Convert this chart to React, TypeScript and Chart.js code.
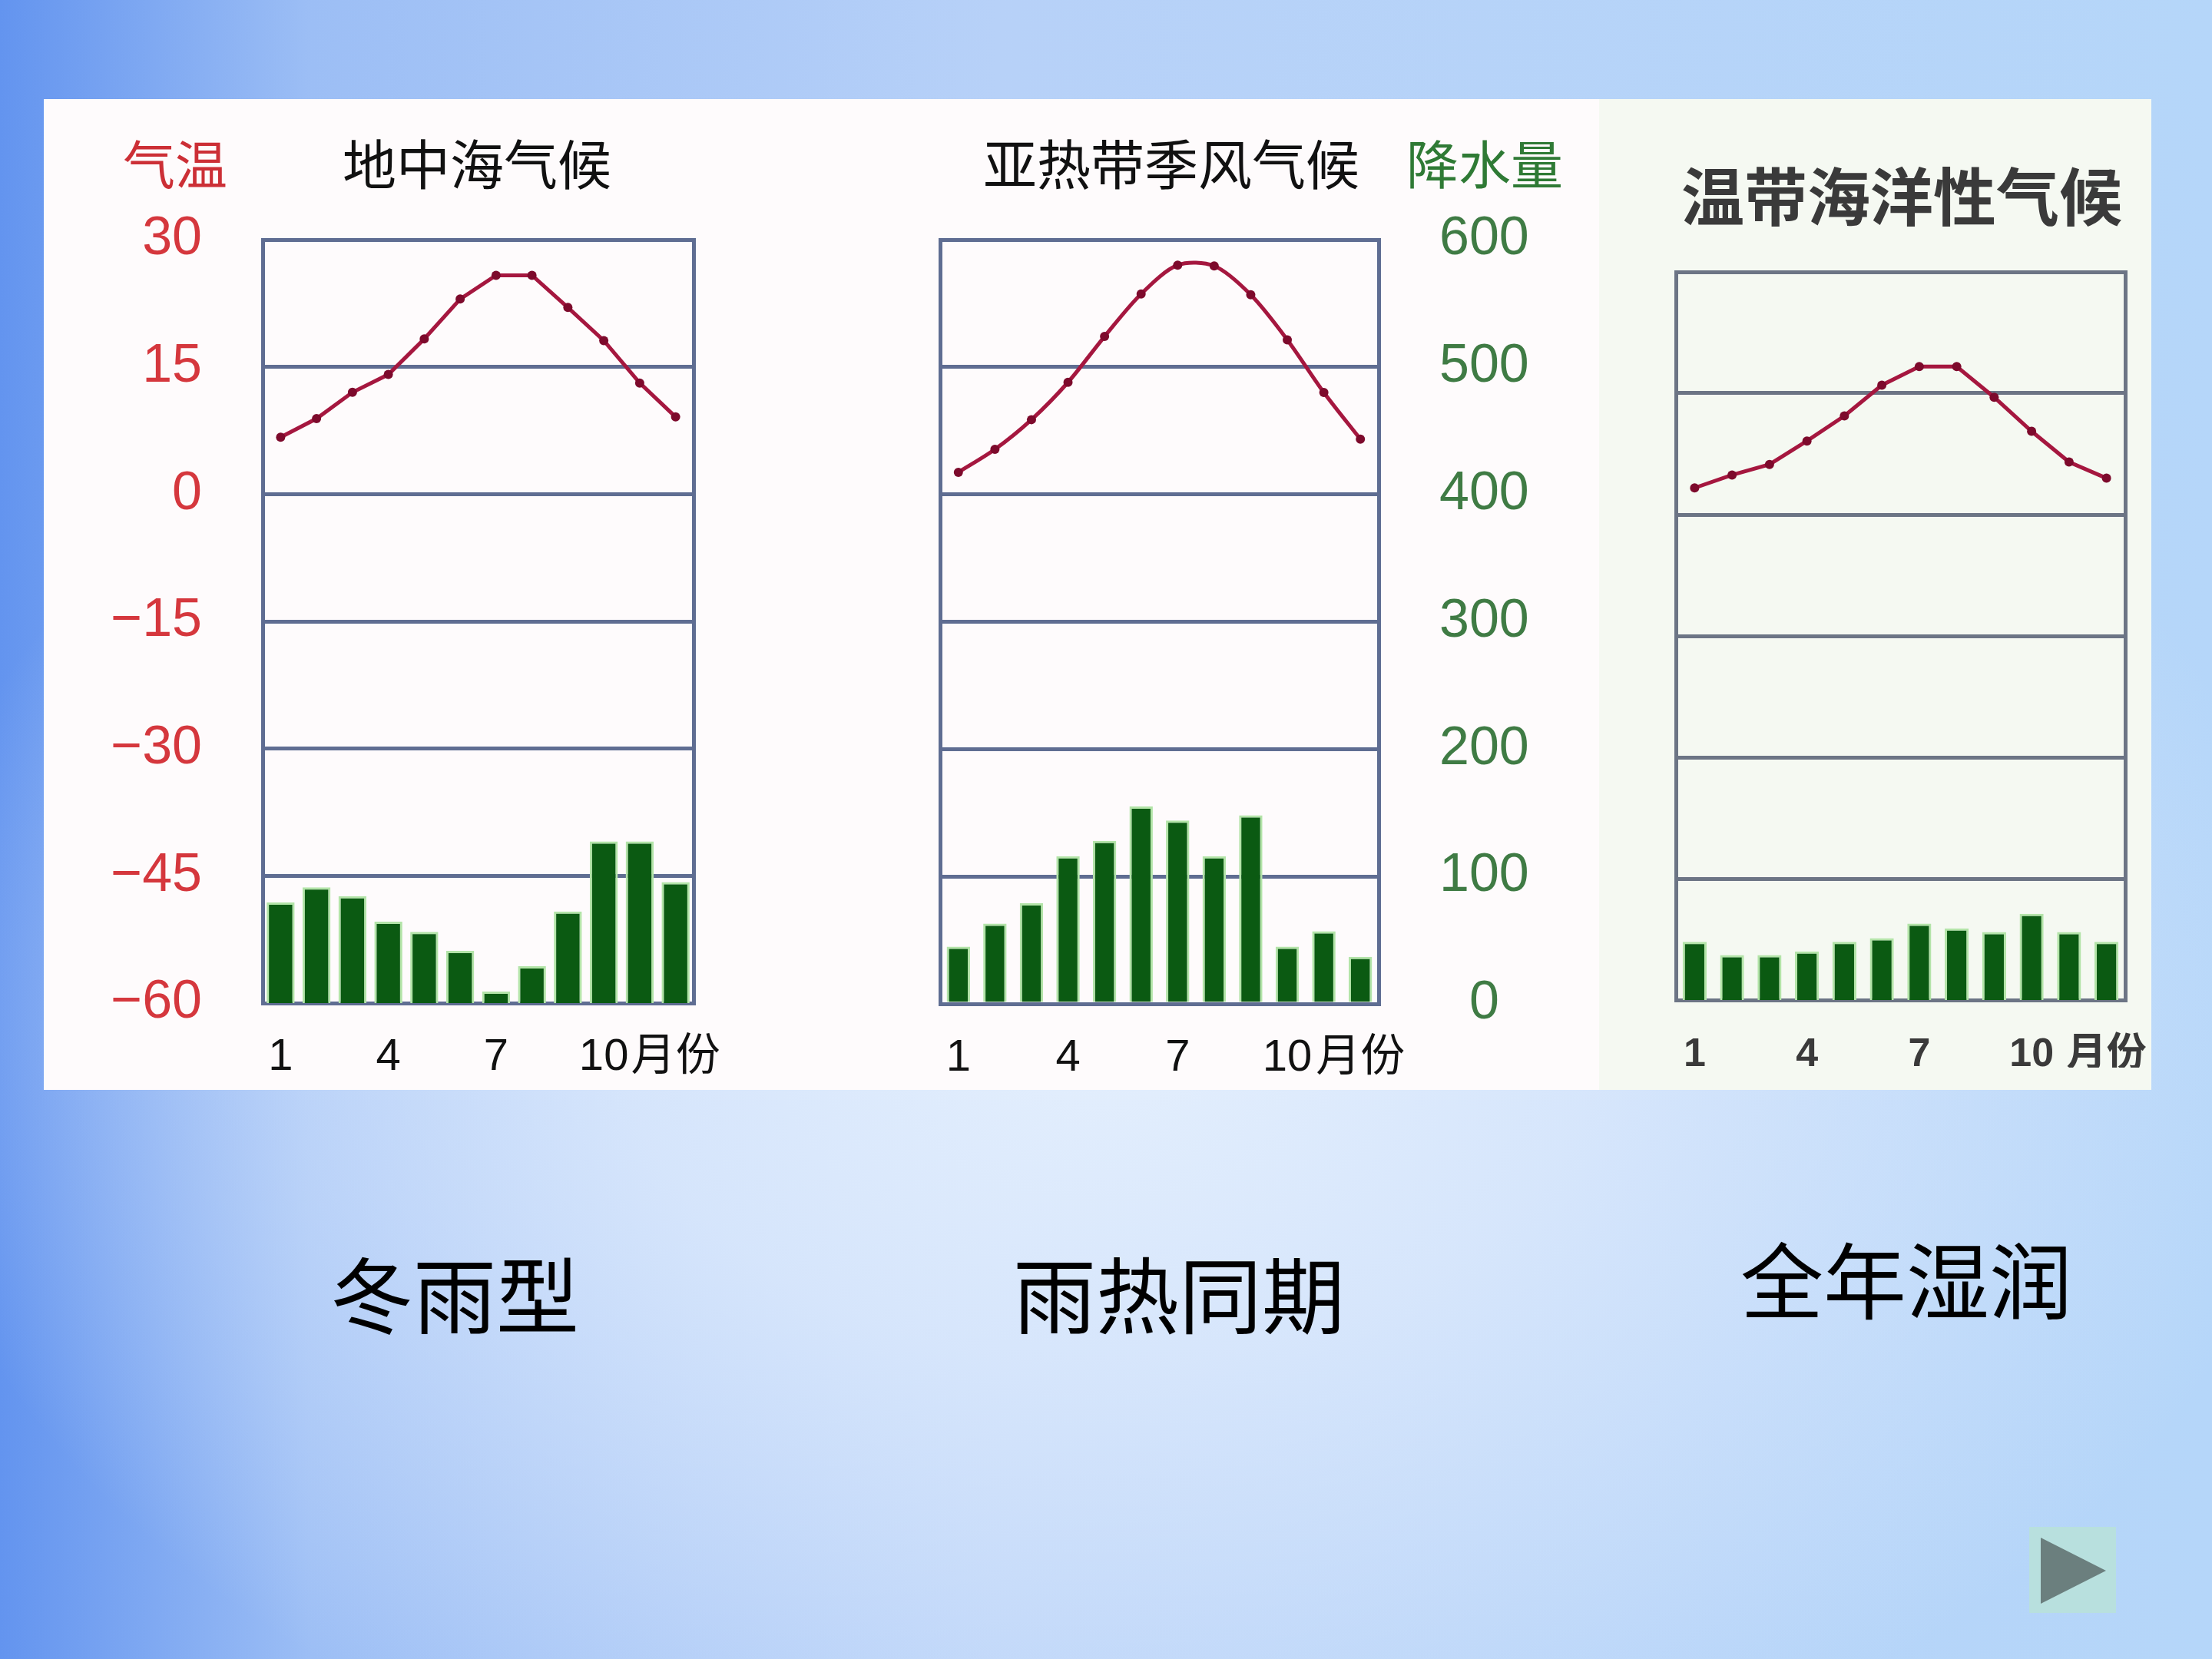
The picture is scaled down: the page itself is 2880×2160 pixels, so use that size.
import React, { useEffect, useRef } from 'react';
import { Chart, registerables } from 'chart.js';

Chart.register(...registerables);

// ---------- data ----------
const monthLabels = ['1', '', '', '4', '', '', '7', '', '', '10', '', '月份'];

// 地中海气候
const medTemp = [6.7, 8.9, 12.0, 14.1, 18.3, 23.0, 25.8, 25.8, 22.0, 18.1, 13.1, 9.1];
const medPrecip = [79, 91, 84, 64, 56, 41, 9, 29, 72, 127, 127, 95];

// 亚热带季风气候
const monTemp = [2.6, 5.3, 8.8, 13.2, 18.6, 23.6, 27.0, 26.9, 23.5, 18.2, 12.0, 6.5];
const monPrecip = [45, 63, 79, 116, 128, 155, 144, 116, 148, 45, 57, 37];

// 温带海洋性气候
const oceTemp = [3.3, 4.9, 6.2, 9.1, 12.2, 16.0, 18.3, 18.3, 14.5, 10.3, 6.5, 4.5];
const ocePrecip = [48, 37, 37, 40, 48, 51, 63, 59, 56, 71, 56, 48];

const tempMin = -60;
const tempMax = 30;
const tempStep = 15;
const precipMin = 0;
const precipMax = 600;
const precipStep = 100;

// ---------- styling ----------
const GRID = '#5f6d92';
const GRID3 = '#6c7585';
const LINE = '#a5173f';
const POINT = '#7d0a2c';
const BAR = '#0b5a12';
const BAR_EDGE = '#b3e4a8';

type Spec = {
  temp: number[];
  precip: number[];
  width: number;
  height: number;
  padTop: number;
  padRight: number;
  padLeft: number;
  yW: number;
  y1W: number;
  xH: number;
  showTemp: boolean;
  showPrecip: boolean;
  gridOn: 'y' | 'y1';
  gridColor: string;
  barPct: number;
  tension: number;
  xFont: { family: string; size: number; weight: string };
  xColor: string;
  xPad: number;
};

const tickFamily = '"Liberation Sans", "Arial", sans-serif';
const sans = '"Liberation Sans", "Noto Sans CJK SC", sans-serif';

function zeroPad(sc: any) {
  sc.paddingTop = 0;
  sc.paddingBottom = 0;
  sc.paddingLeft = 0;
  sc.paddingRight = 0;
}

function makeConfig(s: Spec): any {
  return {
    type: 'bar',
    data: {
      labels: monthLabels,
      datasets: [
        {
          type: 'line',
          data: s.temp,
          yAxisID: 'y',
          borderColor: LINE,
          borderWidth: 5,
          pointRadius: 6,
          pointBackgroundColor: POINT,
          pointBorderColor: POINT,
          pointBorderWidth: 0,
          tension: s.tension,
          order: 0,
        },
        {
          type: 'bar',
          data: s.precip,
          yAxisID: 'y1',
          backgroundColor: BAR,
          borderColor: BAR_EDGE,
          borderWidth: 3,
          borderSkipped: 'bottom',
          barPercentage: s.barPct,
          categoryPercentage: 1,
          order: 1,
        },
      ],
    },
    options: {
      responsive: false,
      animation: false,
      devicePixelRatio: 1,
      layout: {
        autoPadding: false,
        padding: { top: s.padTop, right: s.padRight, left: s.padLeft, bottom: 0 },
      },
      plugins: { legend: { display: false }, tooltip: { enabled: false } },
      scales: {
        x: {
          type: 'category',
          grid: { display: false, drawTicks: false },
          border: { display: true, color: s.gridColor, width: 5 },
          ticks: {
            autoSkip: false,
            maxRotation: 0,
            minRotation: 0,
            padding: s.xPad,
            color: s.xColor,
            font: s.xFont,
          },
          afterFit: (sc: any) => {
            sc.height = s.xH;
            zeroPad(sc);
          },
        },
        y: {
          type: 'linear',
          position: 'left',
          min: tempMin,
          max: tempMax,
          ticks: {
            stepSize: tempStep,
            display: s.showTemp,
            padding: 79,
            color: '#d5373d',
            font: { family: tickFamily, size: 70 },
            callback: (v: any) => (v < 0 ? '−' + Math.abs(v) : String(v)),
          },
          grid: {
            display: s.gridOn === 'y',
            drawTicks: false,
            color: s.gridColor,
            lineWidth: 5,
          },
          border: { display: true, color: s.gridColor, width: 5 },
          afterFit: (sc: any) => {
            sc.width = s.yW;
            zeroPad(sc);
          },
        },
        y1: {
          type: 'linear',
          position: 'right',
          min: precipMin,
          max: precipMax,
          ticks: {
            stepSize: precipStep,
            display: s.showPrecip,
            padding: 79,
            crossAlign: 'center',
            color: '#3f7b44',
            font: { family: tickFamily, size: 70 },
          },
          grid: {
            display: s.gridOn === 'y1',
            drawTicks: false,
            color: s.gridColor,
            lineWidth: 5,
          },
          border: { display: true, color: s.gridColor, width: 5 },
          afterFit: (sc: any) => {
            sc.width = s.y1W;
            zeroPad(sc);
          },
        },
      },
    },
  };
}

function ClimateChart({ spec, left, top }: { spec: Spec; left: number; top: number }) {
  const ref = useRef<HTMLCanvasElement | null>(null);
  useEffect(() => {
    if (!ref.current) return;
    const chart = new Chart(ref.current, makeConfig(spec));
    return () => chart.destroy();
  }, [spec]);
  return (
    <canvas
      ref={ref}
      width={spec.width}
      height={spec.height}
      style={{
        position: 'absolute',
        left,
        top,
        width: spec.width,
        height: spec.height,
        display: 'block',
      }}
    />
  );
}

const xFontNormal = { family: sans, size: 58, weight: 'normal' };
const xFontBold = { family: sans, size: 52, weight: 'bold' };

const spec1: Spec = {
  temp: medTemp,
  precip: medPrecip,
  width: 900,
  height: 1170,
  padTop: 62,
  padRight: 57,
  padLeft: 0,
  yW: 282,
  y1W: 0,
  xH: 114,
  showTemp: true,
  showPrecip: false,
  gridOn: 'y',
  gridColor: GRID,
  barPct: 0.78,
  tension: 0,
  xFont: xFontNormal,
  xColor: '#111',
  xPad: 36,
};

const spec2: Spec = {
  temp: monTemp,
  precip: monPrecip,
  width: 1080,
  height: 1170,
  padTop: 62,
  padRight: 0,
  padLeft: 0,
  yW: 224,
  y1W: 285,
  xH: 113,
  showTemp: false,
  showPrecip: true,
  gridOn: 'y1',
  gridColor: GRID,
  barPct: 0.64,
  tension: 0.3,
  xFont: xFontNormal,
  xColor: '#111',
  xPad: 36,
};

const spec3: Spec = {
  temp: oceTemp,
  precip: ocePrecip,
  width: 700,
  height: 1110,
  padTop: 74,
  padRight: 33,
  padLeft: 0,
  yW: 82,
  y1W: 0,
  xH: 88,
  showTemp: false,
  showPrecip: false,
  gridOn: 'y',
  gridColor: GRID3,
  barPct: 0.64,
  tension: 0,
  xFont: xFontBold,
  xColor: '#3a3a3a',
  xPad: 40,
};

const cjk = '"Noto Sans CJK SC", "Noto Sans", sans-serif';

function Label({
  text,
  left,
  cy,
  size,
  color,
  weight = 400,
}: {
  text: string;
  left: number;
  cy: number;
  size: number;
  color: string;
  weight?: number;
}) {
  return (
    <div
      style={{
        position: 'absolute',
        left,
        top: cy - size / 2,
        fontFamily: cjk,
        fontSize: size,
        lineHeight: `${size}px`,
        height: size,
        color,
        fontWeight: weight,
        whiteSpace: 'nowrap',
      }}
    >
      {text}
    </div>
  );
}

export default function App() {
  return (
    <div
      style={{
        position: 'absolute',
        left: 0,
        top: 0,
        width: 2880,
        height: 2160,
        overflow: 'hidden',
        background:
          'radial-gradient(ellipse 55% 50% at 50% 62%, rgba(228,239,253,1) 0%, rgba(218,232,252,0.9) 40%, rgba(200,222,250,0) 100%), linear-gradient(90deg, #6394ef 0%, #9cbef5 14%, #b7d1f8 45%, #b5d6f9 100%)',
      }}
    >
      {/* white panel */}
      <div
        style={{
          position: 'absolute',
          left: 57,
          top: 129,
          width: 2744,
          height: 1290,
          background: '#fefbfc',
        }}
      />
      <div
        style={{
          position: 'absolute',
          left: 2082,
          top: 129,
          width: 719,
          height: 1290,
          background: '#f5f9f2',
        }}
      />

      <ClimateChart spec={spec1} left={60} top={250} />
      <ClimateChart spec={spec2} left={1000} top={250} />
      <ClimateChart spec={spec3} left={2100} top={280} />

      <Label text="气温" left={160} cy={211} size={68} color="#cc2f36" />
      <Label text="地中海气候" left={446} cy={211} size={70} color="#111" />
      <Label text="亚热带季风气候" left={1280} cy={211} size={70} color="#111" />
      <Label text="降水量" left={1831} cy={211} size={68} color="#2f7a35" />
      <Label text="温带海洋性气候" left={2189} cy={252} size={82} color="#3a3a3a" weight={700} />

      <Label text="冬雨型" left={430} cy={1681} size={108} color="#000" weight={400} />
      <Label text="雨热同期" left={1319} cy={1681} size={108} color="#000" weight={400} />
      <Label text="全年湿润" left={2266} cy={1662} size={108} color="#000" weight={400} />

      {/* next button */}
      <div
        style={{
          position: 'absolute',
          left: 2642,
          top: 1988,
          width: 113,
          height: 112,
          background: '#b8e0de',
        }}
      >
        <div
          style={{
            position: 'absolute',
            left: 15,
            top: 14,
            width: 0,
            height: 0,
            borderTop: '43px solid transparent',
            borderBottom: '43px solid transparent',
            borderLeft: '85px solid #6b7f7e',
          }}
        />
      </div>
    </div>
  );
}
